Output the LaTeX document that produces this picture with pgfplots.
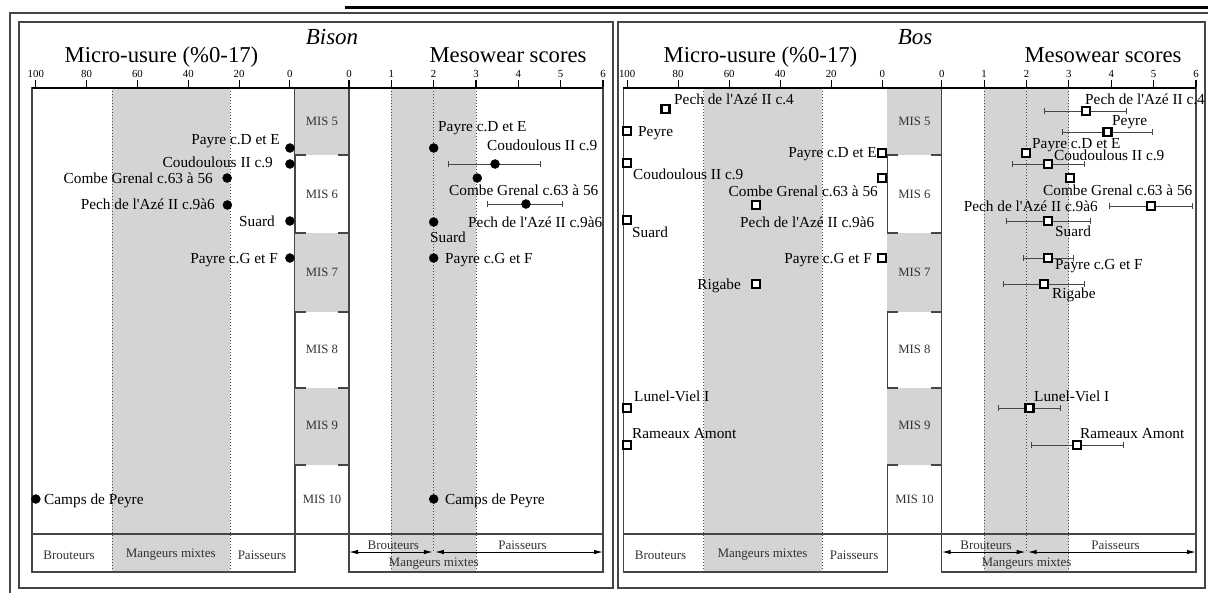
\documentclass[border=0pt]{standalone}
\usepackage{fontspec}
\setmainfont{Liberation Serif}
\usepackage{pgfplots}
\usepackage{pgfplotstable}
\pgfplotsset{compat=1.18}
\usetikzlibrary{arrows.meta}

\definecolor{bandgray}{RGB}{212,212,214}
\definecolor{framegray}{RGB}{70,70,70}
\definecolor{txtgray}{RGB}{50,50,50}
\newcommand{\fs}[1]{\fontsize{#1pt}{#1pt}\selectfont}
\newcommand{\q}{\textquotesingle}

% ---------------- data ----------------
\pgfplotstableread{
x y
0 148
0 164
24.7 178
24.6 205
0 221
0 258
100 499
}\bisonmicro

\pgfplotstableread{
x y ep em
3.45 164 1.07 1.09
4.18 204 0.87 0.90
}\bisonmesobars

\pgfplotstableread{
x y
2.0 148
3.03 178
2.0 222
2.0 258
2.0 499
}\bisonmeso

\pgfplotstableread{
x y
85 109
100 131
0 153
100 163
0 178
49.5 205
100 220
0 258
49.5 284
100 408
100 445
}\bosmicro

\pgfplotstableread{
x y ep em
3.40 111 0.96 0.97
3.91 132 1.07 1.07
2.51 164 0.85 0.84
4.94 206 0.97 0.99
2.51 221 1.00 0.99
2.51 258 0.59 0.58
2.41 284 0.96 0.96
2.07 408 0.74 0.72
3.19 445 1.10 1.07
}\bosmesobars

\pgfplotstableread{
x y
1.99 153
3.02 178
}\bosmeso

\pgfplotsset{
 panel/.style={anchor=south west, scale only axis, height=484pt,
   y dir=reverse, ymin=88, ymax=572, ytick=\empty,
   axis line style={draw=framegray, line width=1.2pt},
   xtick pos=right, xticklabel pos=right, tick align=outside,
   major tick length=8pt, xtick style={draw=black, line width=1.1pt},
   xticklabel style={font=\fs{10.8}, inner sep=2pt},
   /pgf/number format/assume math mode=true, clip=false, axis on top},
 micro/.style={panel, x dir=reverse, xmin=-2, xmax=101.5, xtick={0,20,...,100}},
 meso/.style={panel, xmin=0, xmax=6, xtick={0,1,...,6}},
 mis/.style={anchor=south west, scale only axis, height=446pt,
   y dir=reverse, ymin=88, ymax=534, xmin=0, xmax=1, hide axis, clip=false},
 dotl/.style={framegray, dotted, line width=1pt},
 circ/.style={only marks, mark=*, mark size=4.5pt, black},
 sq/.style={only marks, mark=square*, mark size=4pt,
   mark options={fill=white, draw=black, line width=2.3pt}},
 ebars/.style={error bars/.cd, x dir=both, x explicit,
   error bar style={line width=1pt, framegray},
   error mark options={rotate=90, line width=1pt, mark size=3pt, framegray}},
}

\newcommand{\microcontent}{%
  \addplot[fill=bandgray, draw=none] coordinates {(70,88) (23.5,88) (23.5,572) (70,572)};
  \addplot[dotl] coordinates {(70,88) (70,572)};
  \addplot[dotl] coordinates {(23.5,88) (23.5,572)};
  \node[font=\fs{13}, text=txtgray] at (axis cs:86.9,555) {Brouteurs};
  \node[font=\fs{13}, text=txtgray] at (axis cs:46.9,555) {Mangeurs mixtes};
  \node[font=\fs{13}, text=txtgray] at (axis cs:11.0,555) {Paisseurs};
}
\newcommand{\miscontent}{%
  \addplot[fill=bandgray, draw=none] coordinates {(0,88)(1,88)(1,155)(0,155)};
  \addplot[fill=bandgray, draw=none] coordinates {(0,233)(1,233)(1,312)(0,312)};
  \addplot[fill=bandgray, draw=none] coordinates {(0,388)(1,388)(1,465)(0,465)};
  \pgfplotsinvokeforeach{155,233,312,388,465}{
    \addplot[framegray, line width=1.4pt] coordinates {(0,##1)(0.2,##1)};
    \addplot[framegray, line width=1.4pt] coordinates {(0.8,##1)(1,##1)};
  }
  \node[font=\fs{12.7}, text=txtgray] at (axis cs:0.5,121) {MIS 5};
  \node[font=\fs{12.7}, text=txtgray] at (axis cs:0.5,194) {MIS 6};
  \node[font=\fs{12.7}, text=txtgray] at (axis cs:0.5,272) {MIS 7};
  \node[font=\fs{12.7}, text=txtgray] at (axis cs:0.5,349) {MIS 8};
  \node[font=\fs{12.7}, text=txtgray] at (axis cs:0.5,425) {MIS 9};
  \node[font=\fs{12.7}, text=txtgray] at (axis cs:0.5,499) {MIS 10};
}
\newcommand{\mesocontent}{%
  \addplot[fill=bandgray, draw=none] coordinates {(1,88)(3,88)(3,572)(1,572)};
  \addplot[dotl] coordinates {(1,88) (1,572)};
  \addplot[dotl] coordinates {(2,88) (2,552)};
  \addplot[dotl] coordinates {(3,88) (3,572)};
  \addplot[framegray, line width=1.2pt] coordinates {(0,534) (6,534)};
  \draw[{Latex[length=9pt,width=4.5pt]}-{Latex[length=9pt,width=4.5pt]}, line width=1pt, black]
     (axis cs:0,552) -- (axis cs:1.98,552);
  \draw[{Latex[length=9pt,width=4.5pt]}-{Latex[length=9pt,width=4.5pt]}, line width=1pt, black]
     (axis cs:2.03,552) -- (axis cs:6,552);
  \node[font=\fs{13}, text=txtgray] at (axis cs:1.047,545) {Brouteurs};
  \node[font=\fs{13}, text=txtgray] at (axis cs:4.10,545) {Paisseurs};
  \node[font=\fs{13}, text=txtgray] at (axis cs:2.0,564) {Mangeurs mixtes};
}

\begin{document}
\begin{tikzpicture}
\useasboundingbox (0pt,0pt) rectangle (1208pt,-592pt);

% frames
\draw[line width=3pt] (345pt,-7pt) -- (1208pt,-7pt);
\draw[framegray, line width=1.2pt] (10pt,-600pt) -- (10pt,-13pt) -- (1212pt,-13pt);
\draw[framegray, line width=1.2pt] (19pt,-588pt) rectangle (613pt,-22pt);
\draw[framegray, line width=1.2pt] (618pt,-588pt) rectangle (1205pt,-22pt);

% ================= BISON =================
\begin{axis}[micro, at={(32pt,-572pt)}, width=263pt]
  \microcontent
  \addplot[circ] table {\bisonmicro};
\end{axis}
\begin{axis}[mis, at={(295pt,-534pt)}, width=54pt]
  \miscontent
\end{axis}
\begin{axis}[meso, at={(349pt,-572pt)}, width=254pt]
  \mesocontent
  \addplot[circ, ebars] table[x=x, y=y, x error plus=ep, x error minus=em] {\bisonmesobars};
  \addplot[circ] table {\bisonmeso};
\end{axis}

% ================= BOS =================
\begin{axis}[micro, at={(623.3pt,-572pt)}, width=264pt]
  \microcontent
  \addplot[sq] table {\bosmicro};
\end{axis}
\begin{axis}[mis, at={(887.3pt,-534pt)}, width=54.4pt]
  \miscontent
\end{axis}
\begin{axis}[meso, at={(941.7pt,-572pt)}, width=254.3pt]
  \mesocontent
  \addplot[sq, ebars] table[x=x, y=y, x error plus=ep, x error minus=em] {\bosmesobars};
  \addplot[sq] table {\bosmeso};
\end{axis}

% strip separator lines and thick top axis lines
\draw[framegray, line width=1.2pt] (32pt,-534pt) -- (349pt,-534pt);
\draw[framegray, line width=1.2pt] (623.3pt,-534pt) -- (941.7pt,-534pt);
\draw[black, line width=2.7pt] (32pt,-88pt) -- (603pt,-88pt);
\draw[black, line width=2.7pt] (623.3pt,-88pt) -- (1196pt,-88pt);

% titles
\node[anchor=base, font=\fs{23}\itshape, inner sep=0pt] at (332pt,-44.5pt) {Bison};
\node[anchor=base, font=\fs{22.7}, inner sep=0pt] at (161.5pt,-62.5pt) {Micro-usure (\%0-17)};
\node[anchor=base, font=\fs{22.7}, inner sep=0pt] at (508pt,-62.5pt) {Mesowear scores};
\node[anchor=base, font=\fs{23}\itshape, inner sep=0pt] at (915pt,-44.5pt) {Bos};
\node[anchor=base, font=\fs{22.7}, inner sep=0pt] at (760.5pt,-62.5pt) {Micro-usure (\%0-17)};
\node[anchor=base, font=\fs{22.7}, inner sep=0pt] at (1103pt,-62.5pt) {Mesowear scores};

% point labels
\begin{scope}[every node/.style={font=\fs{15.3}, inner sep=0pt}]
% Bison micro
\node[anchor=base east] at (280pt,-144pt) {Payre c.D et E};
\node[anchor=base east] at (273pt,-167pt) {Coudoulous II c.9};
\node[anchor=base east] at (213pt,-183pt) {Combe Grenal c.63 à 56};
\node[anchor=base east] at (215pt,-209pt) {Pech de l\q Azé II c.9à6};
\node[anchor=base east] at (275pt,-226pt) {Suard};
\node[anchor=base east] at (278pt,-263pt) {Payre c.G et F};
\node[anchor=base west] at (44pt,-504pt) {Camps de Peyre};
% Bison meso
\node[anchor=base west] at (438pt,-131pt) {Payre c.D et E};
\node[anchor=base west] at (487pt,-150pt) {Coudoulous II c.9};
\node[anchor=base west] at (449pt,-195pt) {Combe Grenal c.63 à 56};
\node[anchor=base west] at (468pt,-227pt) {Pech de l\q Azé II c.9à6};
\node[anchor=base west] at (430pt,-242pt) {Suard};
\node[anchor=base west] at (445pt,-263pt) {Payre c.G et F};
\node[anchor=base west] at (445pt,-504pt) {Camps de Peyre};
% Bos micro
\node[anchor=base west] at (674pt,-104pt) {Pech de l\q Azé II c.4};
\node[anchor=base west] at (638pt,-136pt) {Peyre};
\node[anchor=base east] at (877pt,-157pt) {Payre c.D et E};
\node[anchor=base west] at (633pt,-179pt) {Coudoulous II c.9};
\node[anchor=base east] at (878pt,-196pt) {Combe Grenal c.63 à 56};
\node[anchor=base west] at (740pt,-227pt) {Pech de l\q Azé II c.9à6};
\node[anchor=base west] at (632pt,-237pt) {Suard};
\node[anchor=base east] at (872pt,-263pt) {Payre c.G et F};
\node[anchor=base east] at (741pt,-289pt) {Rigabe};
\node[anchor=base west] at (634pt,-401pt) {Lunel-Viel I};
\node[anchor=base west] at (632pt,-438pt) {Rameaux Amont};
% Bos meso
\node[anchor=base west] at (1085pt,-104pt) {Pech de l\q Azé II c.4};
\node[anchor=base west] at (1112pt,-125pt) {Peyre};
\node[anchor=base west] at (1032pt,-148pt) {Payre c.D et E};
\node[anchor=base west] at (1054pt,-160pt) {Coudoulous II c.9};
\node[anchor=base west] at (1043pt,-195pt) {Combe Grenal c.63 à 56};
\node[anchor=base east] at (1098pt,-211pt) {Pech de l\q Azé II c.9à6};
\node[anchor=base west] at (1055pt,-236pt) {Suard};
\node[anchor=base west] at (1055pt,-269pt) {Payre c.G et F};
\node[anchor=base west] at (1052pt,-298pt) {Rigabe};
\node[anchor=base west] at (1034pt,-401pt) {Lunel-Viel I};
\node[anchor=base west] at (1080pt,-438pt) {Rameaux Amont};
\end{scope}
\end{tikzpicture}
\end{document}
